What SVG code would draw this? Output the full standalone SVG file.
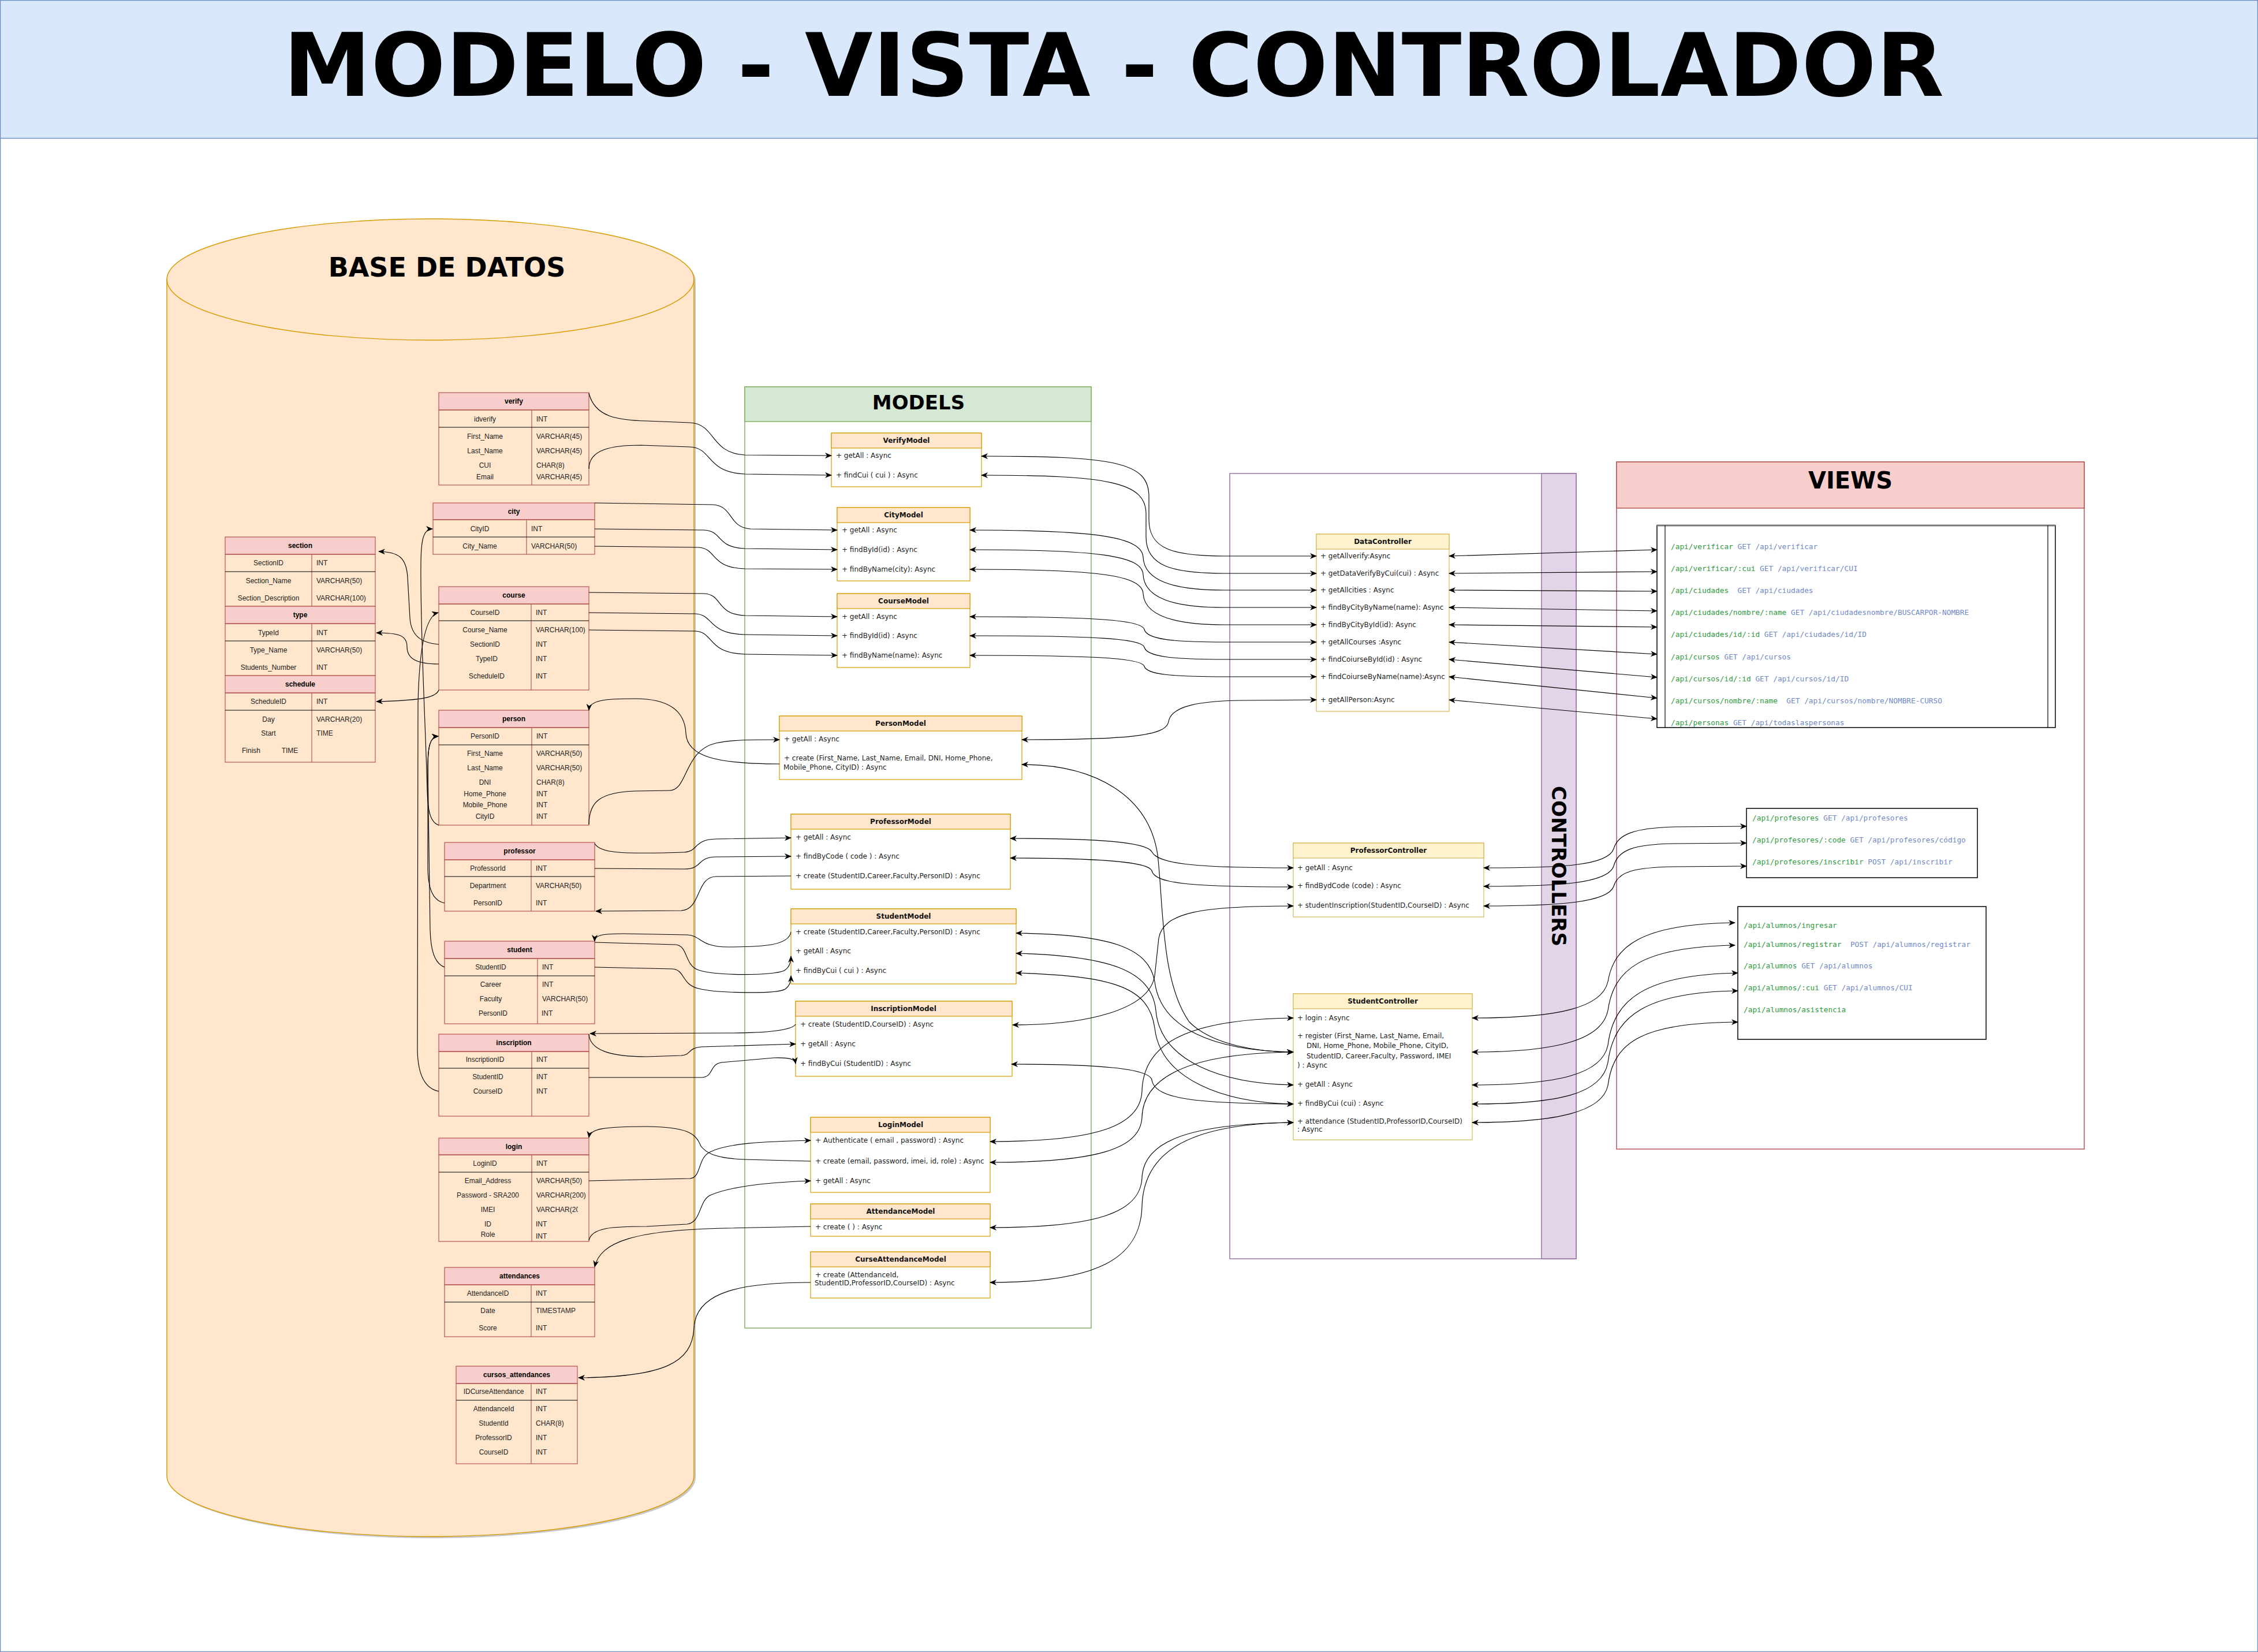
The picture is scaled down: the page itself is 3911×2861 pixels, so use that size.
<svg xmlns="http://www.w3.org/2000/svg" width="3911" height="2861" viewBox="0 0 3911 2861">
<style>
.th{fill:#f8cecc;stroke:#b85450;stroke-width:1.2}
.tb{fill:none;stroke:#b85450;stroke-width:1.2}
.cl{stroke:#b85450;stroke-width:1.2}
.kl{stroke:#000;stroke-width:1.2}
.dh{font:bold 12px "Liberation Sans",Arial,sans-serif;text-anchor:middle;fill:#000}
.c1{font:12px "Liberation Sans",Arial,sans-serif;text-anchor:middle;fill:#222}
.c2{font:12px "Liberation Sans",Arial,sans-serif;fill:#222}
.mh{fill:#ffe6cc;stroke:#d79b00;stroke-width:1.2}
.mb{fill:#fff;stroke:#d79b00;stroke-width:1.2}
.ch{fill:#fff2cc;stroke:#d6b656;stroke-width:1.2}
.cb{fill:#fff;stroke:#d6b656;stroke-width:1.2}
.mt{font:12px "DejaVu Sans",Verdana,sans-serif;fill:#222}
.mht{font:bold 12px "DejaVu Sans",Verdana,sans-serif;text-anchor:middle;fill:#111}
.big{font-family:"DejaVu Sans",Verdana,sans-serif;font-weight:bold;text-anchor:middle;fill:#000}
.vt{font:12.8px "DejaVu Sans Mono","Liberation Mono",monospace}
.g{fill:#2e9a40}
.b{fill:#7088c8}
.e{fill:none;stroke:#000;stroke-width:1.15;marker-end:url(#a)}
.e2{fill:none;stroke:#000;stroke-width:1.15;marker-start:url(#a);marker-end:url(#a)}
</style>
<defs>
<marker id="a" viewBox="0 0 12 10" refX="11" refY="5" markerWidth="12" markerHeight="10" markerUnits="userSpaceOnUse" orient="auto-start-reverse"><path d="M0,0 L12,5 L0,10 L3.5,5 Z" fill="#000"/></marker>
<clipPath id="clipImei"><rect x="921" y="2088" width="80" height="20"/></clipPath>
</defs>

<g id="page">
<rect x="0.5" y="0.5" width="3910" height="2860" fill="#fff" stroke="#6c8ebf" stroke-width="1.5"/>
<rect x="0.5" y="0.5" width="3910" height="239" fill="#dae8fc" stroke="#6c8ebf" stroke-width="1.5"/>
<text class="big" x="1929" y="166" font-size="152" textLength="2876" lengthAdjust="spacing">MODELO - VISTA - CONTROLADOR</text>
</g>

<g id="database">
<path d="M292,487 A456.5,105 0 0 1 1205,487 L1205,2559 A456.5,105 0 0 1 292,2559 Z" fill="#000" opacity="0.22"/>
<path d="M289,484 A456.5,105 0 0 1 1202,484 L1202,2556 A456.5,105 0 0 1 289,2556 Z" fill="#ffe6cc" stroke="#d79b00" stroke-width="1.5"/>
<path d="M289,484 A456.5,105 0 0 0 1202,484" fill="none" stroke="#d79b00" stroke-width="1.5"/>
<text class="big" x="774" y="479" font-size="46">BASE DE DATOS</text>
</g>

<g id="tbl-verify">
<rect class="th" x="760" y="680" width="260" height="30"/>
<rect class="tb" x="760" y="710" width="260" height="130"/>
<line class="cl" x1="921" y1="710" x2="921" y2="840"/>
<line class="kl" x1="760" y1="740" x2="1020" y2="740"/>
<text class="dh" x="890" y="699">verify</text>
<text class="c1" x="840" y="730">idverify</text><text class="c2" x="929" y="730">INT</text>
<text class="c1" x="840" y="760">First_Name</text><text class="c2" x="929" y="760">VARCHAR(45)</text>
<text class="c1" x="840" y="785">Last_Name</text><text class="c2" x="929" y="785">VARCHAR(45)</text>
<text class="c1" x="840" y="810">CUI</text><text class="c2" x="929" y="810">CHAR(8)</text>
<text class="c1" x="840" y="830">Email</text><text class="c2" x="929" y="830">VARCHAR(45)</text>
</g>

<g id="tbl-city">
<rect class="th" x="750" y="871" width="280" height="29"/>
<rect class="tb" x="750" y="900" width="280" height="60"/>
<line class="cl" x1="912" y1="900" x2="912" y2="960"/>
<line class="kl" x1="750" y1="930" x2="1030" y2="930"/>
<text class="dh" x="890" y="890">city</text>
<text class="c1" x="831" y="920">CityID</text><text class="c2" x="920" y="920">INT</text>
<text class="c1" x="831" y="950">City_Name</text><text class="c2" x="920" y="950">VARCHAR(50)</text>
</g>

<g id="tbl-section">
<rect class="th" x="390" y="930" width="260" height="30"/>
<rect class="tb" x="390" y="960" width="260" height="90"/>
<line class="cl" x1="540" y1="960" x2="540" y2="1050"/>
<line class="kl" x1="390" y1="990" x2="650" y2="990"/>
<text class="dh" x="520" y="949">section</text>
<text class="c1" x="465" y="979">SectionID</text><text class="c2" x="548" y="979">INT</text>
<text class="c1" x="465" y="1010">Section_Name</text><text class="c2" x="548" y="1010">VARCHAR(50)</text>
<text class="c1" x="465" y="1040">Section_Description</text><text class="c2" x="548" y="1040">VARCHAR(100)</text>
</g>

<g id="tbl-type">
<rect class="th" x="390" y="1050" width="260" height="30"/>
<rect class="tb" x="390" y="1080" width="260" height="90"/>
<line class="cl" x1="540" y1="1080" x2="540" y2="1170"/>
<line class="kl" x1="390" y1="1110" x2="650" y2="1110"/>
<text class="dh" x="520" y="1069">type</text>
<text class="c1" x="465" y="1100">TypeId</text><text class="c2" x="548" y="1100">INT</text>
<text class="c1" x="465" y="1130">Type_Name</text><text class="c2" x="548" y="1130">VARCHAR(50)</text>
<text class="c1" x="465" y="1160">Students_Number</text><text class="c2" x="548" y="1160">INT</text>
</g>

<g id="tbl-schedule">
<rect class="th" x="390" y="1170" width="260" height="30"/>
<rect class="tb" x="390" y="1200" width="260" height="120"/>
<line class="cl" x1="540" y1="1200" x2="540" y2="1320"/>
<line class="kl" x1="390" y1="1230" x2="650" y2="1230"/>
<text class="dh" x="520" y="1189">schedule</text>
<text class="c1" x="465" y="1219">ScheduleID</text><text class="c2" x="548" y="1219">INT</text>
<text class="c1" x="465" y="1250">Day</text><text class="c2" x="548" y="1250">VARCHAR(20)</text>
<text class="c1" x="465" y="1274">Start</text><text class="c2" x="548" y="1274">TIME</text>
<text class="c1" x="435" y="1304">Finish</text><text class="c1" x="502" y="1304">TIME</text>
</g>

<g id="tbl-course">
<rect class="th" x="760" y="1016" width="260" height="30"/>
<rect class="tb" x="760" y="1046" width="260" height="149"/>
<line class="cl" x1="920" y1="1046" x2="920" y2="1195"/>
<line class="kl" x1="760" y1="1075" x2="1020" y2="1075"/>
<text class="dh" x="890" y="1035">course</text>
<text class="c1" x="840" y="1065">CourseID</text><text class="c2" x="928" y="1065">INT</text>
<text class="c1" x="840" y="1095">Course_Name</text><text class="c2" x="928" y="1095">VARCHAR(100)</text>
<text class="c1" x="840" y="1120">SectionID</text><text class="c2" x="928" y="1120">INT</text>
<text class="c1" x="843" y="1145">TypeID</text><text class="c2" x="928" y="1145">INT</text>
<text class="c1" x="843" y="1175">ScheduleID</text><text class="c2" x="928" y="1175">INT</text>
</g>

<g id="tbl-person">
<rect class="th" x="760" y="1230" width="260" height="30"/>
<rect class="tb" x="760" y="1260" width="260" height="169"/>
<line class="cl" x1="921" y1="1260" x2="921" y2="1429"/>
<line class="kl" x1="760" y1="1290" x2="1020" y2="1290"/>
<text class="dh" x="890" y="1249">person</text>
<text class="c1" x="840" y="1279">PersonID</text><text class="c2" x="929" y="1279">INT</text>
<text class="c1" x="840" y="1309">First_Name</text><text class="c2" x="929" y="1309">VARCHAR(50)</text>
<text class="c1" x="840" y="1334">Last_Name</text><text class="c2" x="929" y="1334">VARCHAR(50)</text>
<text class="c1" x="840" y="1359">DNI</text><text class="c2" x="929" y="1359">CHAR(8)</text>
<text class="c1" x="840" y="1379">Home_Phone</text><text class="c2" x="929" y="1379">INT</text>
<text class="c1" x="840" y="1398">Mobile_Phone</text><text class="c2" x="929" y="1398">INT</text>
<text class="c1" x="840" y="1418">CityID</text><text class="c2" x="929" y="1418">INT</text>
</g>

<g id="tbl-professor">
<rect class="th" x="770" y="1459" width="260" height="30"/>
<rect class="tb" x="770" y="1489" width="260" height="89"/>
<line class="cl" x1="920" y1="1489" x2="920" y2="1578"/>
<line class="kl" x1="770" y1="1518" x2="1030" y2="1518"/>
<text class="dh" x="900" y="1478">professor</text>
<text class="c1" x="845" y="1508">ProfessorId</text><text class="c2" x="928" y="1508">INT</text>
<text class="c1" x="845" y="1538">Department</text><text class="c2" x="928" y="1538">VARCHAR(50)</text>
<text class="c1" x="845" y="1568">PersonID</text><text class="c2" x="928" y="1568">INT</text>
</g>

<g id="tbl-student">
<rect class="th" x="770" y="1630" width="260" height="30"/>
<rect class="tb" x="770" y="1660" width="260" height="113"/>
<line class="cl" x1="931" y1="1660" x2="931" y2="1773"/>
<line class="kl" x1="770" y1="1690" x2="1030" y2="1690"/>
<text class="dh" x="900" y="1649">student</text>
<text class="c1" x="850" y="1679">StudentID</text><text class="c2" x="939" y="1679">INT</text>
<text class="c1" x="850" y="1709">Career</text><text class="c2" x="939" y="1709">INT</text>
<text class="c1" x="850" y="1734">Faculty</text><text class="c2" x="939" y="1734">VARCHAR(50)</text>
<text class="c1" x="854" y="1759">PersonID</text><text class="c2" x="938" y="1759">INT</text>
</g>

<g id="tbl-inscription">
<rect class="th" x="760" y="1791" width="260" height="30"/>
<rect class="tb" x="760" y="1821" width="260" height="112"/>
<line class="cl" x1="921" y1="1821" x2="921" y2="1933"/>
<line class="kl" x1="760" y1="1850" x2="1020" y2="1850"/>
<text class="dh" x="890" y="1810">inscription</text>
<text class="c1" x="840" y="1839">InscriptionID</text><text class="c2" x="929" y="1839">INT</text>
<text class="c1" x="845" y="1869">StudentID</text><text class="c2" x="929" y="1869">INT</text>
<text class="c1" x="845" y="1894">CourseID</text><text class="c2" x="929" y="1894">INT</text>
</g>

<g id="tbl-login">
<rect class="th" x="760" y="1971" width="260" height="29"/>
<rect class="tb" x="760" y="2000" width="260" height="150"/>
<line class="cl" x1="921" y1="2000" x2="921" y2="2150"/>
<line class="kl" x1="760" y1="2030" x2="1020" y2="2030"/>
<text class="dh" x="890" y="1990">login</text>
<text class="c1" x="840" y="2019">LoginID</text><text class="c2" x="929" y="2019">INT</text>
<text class="c1" x="845" y="2049">Email_Address</text><text class="c2" x="929" y="2049">VARCHAR(50)</text>
<text class="c1" x="845" y="2074">Password - SRA200</text><text class="c2" x="929" y="2074">VARCHAR(200)</text>
<text class="c1" x="845" y="2099">IMEI</text><text class="c2" x="929" y="2099" clip-path="url(#clipImei)">VARCHAR(20)</text>
<text class="c1" x="845" y="2124">ID</text><text class="c2" x="928" y="2124">INT</text>
<text class="c1" x="845" y="2142">Role</text><text class="c2" x="928" y="2145">INT</text>
</g>

<g id="tbl-attendances">
<rect class="th" x="770" y="2195" width="260" height="30"/>
<rect class="tb" x="770" y="2225" width="260" height="90"/>
<line class="cl" x1="920" y1="2225" x2="920" y2="2315"/>
<line class="kl" x1="770" y1="2255" x2="1030" y2="2255"/>
<text class="dh" x="900" y="2214">attendances</text>
<text class="c1" x="845" y="2244">AttendanceID</text><text class="c2" x="928" y="2244">INT</text>
<text class="c1" x="845" y="2274">Date</text><text class="c2" x="928" y="2274">TIMESTAMP</text>
<text class="c1" x="845" y="2304">Score</text><text class="c2" x="928" y="2304">INT</text>
</g>

<g id="tbl-cursos_attendances">
<rect class="th" x="790" y="2366" width="210" height="30"/>
<rect class="tb" x="790" y="2396" width="210" height="139"/>
<line class="cl" x1="920" y1="2396" x2="920" y2="2535"/>
<line class="kl" x1="790" y1="2425" x2="1000" y2="2425"/>
<text class="dh" x="895" y="2385">cursos_attendances</text>
<text class="c1" x="855" y="2414">IDCurseAttendance</text><text class="c2" x="928" y="2414">INT</text>
<text class="c1" x="855" y="2444">AttendanceId</text><text class="c2" x="928" y="2444">INT</text>
<text class="c1" x="855" y="2469">StudentId</text><text class="c2" x="928" y="2469">CHAR(8)</text>
<text class="c1" x="855" y="2494">ProfessorID</text><text class="c2" x="928" y="2494">INT</text>
<text class="c1" x="855" y="2519">CourseID</text><text class="c2" x="928" y="2519">INT</text>
</g>

<g id="models">
<rect x="1290" y="670" width="600" height="1630" fill="#fff" stroke="#82b366" stroke-width="1.5"/>
<rect x="1290" y="670" width="600" height="60" fill="#d5e8d4" stroke="#82b366" stroke-width="1.5"/>
<text class="big" x="1591" y="709" font-size="34">MODELS</text>
</g>

<g id="VerifyModel">
<rect class="mb" x="1440" y="750" width="260" height="93"/>
<rect class="mh" x="1440" y="750" width="260" height="26"/>
<text class="mht" x="1570" y="767">VerifyModel</text>
<text class="mt" x="1448" y="793">+ getAll : Async</text>
<text class="mt" x="1448" y="827">+ findCui ( cui ) : Async</text>
</g>
<g id="CityModel">
<rect class="mb" x="1450" y="879" width="230" height="127"/>
<rect class="mh" x="1450" y="879" width="230" height="26"/>
<text class="mht" x="1565" y="896">CityModel</text>
<text class="mt" x="1458" y="922">+ getAll : Async</text>
<text class="mt" x="1458" y="956">+ findById(id) : Async</text>
<text class="mt" x="1458" y="990">+ findByName(city): Async</text>
</g>
<g id="CourseModel">
<rect class="mb" x="1450" y="1028" width="230" height="128"/>
<rect class="mh" x="1450" y="1028" width="230" height="26"/>
<text class="mht" x="1565" y="1045">CourseModel</text>
<text class="mt" x="1458" y="1072">+ getAll : Async</text>
<text class="mt" x="1458" y="1105">+ findById(id) : Async</text>
<text class="mt" x="1458" y="1139">+ findByName(name): Async</text>
</g>
<g id="PersonModel">
<rect class="mb" x="1350" y="1240" width="420" height="110"/>
<rect class="mh" x="1350" y="1240" width="420" height="26"/>
<text class="mht" x="1560" y="1257">PersonModel</text>
<text class="mt" x="1358" y="1284">+ getAll : Async</text>
<text class="mt" x="1358" y="1317">+ create (First_Name, Last_Name, Email, DNI, Home_Phone,</text>
<text class="mt" x="1357" y="1333">Mobile_Phone, CityID) : Async</text>
</g>
<g id="ProfessorModel">
<rect class="mb" x="1370" y="1410" width="380" height="130"/>
<rect class="mh" x="1370" y="1410" width="380" height="26"/>
<text class="mht" x="1560" y="1427">ProfessorModel</text>
<text class="mt" x="1378" y="1454">+ getAll : Async</text>
<text class="mt" x="1378" y="1487">+ findByCode ( code ) : Async</text>
<text class="mt" x="1378" y="1521">+ create (StudentID,Career,Faculty,PersonID) : Async</text>
</g>
<g id="StudentModel">
<rect class="mb" x="1370" y="1574" width="390" height="130"/>
<rect class="mh" x="1370" y="1574" width="390" height="26"/>
<text class="mht" x="1565" y="1591">StudentModel</text>
<text class="mt" x="1378" y="1618">+ create (StudentID,Career,Faculty,PersonID) : Async</text>
<text class="mt" x="1378" y="1651">+ getAll : Async</text>
<text class="mt" x="1378" y="1685">+ findByCui ( cui ) : Async</text>
</g>
<g id="InscriptionModel">
<rect class="mb" x="1378" y="1734" width="375" height="130"/>
<rect class="mh" x="1378" y="1734" width="375" height="26"/>
<text class="mht" x="1565" y="1751">InscriptionModel</text>
<text class="mt" x="1386" y="1778">+ create (StudentID,CourseID) : Async</text>
<text class="mt" x="1386" y="1812">+ getAll : Async</text>
<text class="mt" x="1386" y="1846">+ findByCui (StudentID) : Async</text>
</g>
<g id="LoginModel">
<rect class="mb" x="1404" y="1935" width="311" height="130"/>
<rect class="mh" x="1404" y="1935" width="311" height="26"/>
<text class="mht" x="1560" y="1952">LoginModel</text>
<text class="mt" x="1412" y="1979">+ Authenticate ( email , password) : Async</text>
<text class="mt" x="1412" y="2015">+ create (email, password, imei, id, role) : Async</text>
<text class="mt" x="1412" y="2049">+ getAll : Async</text>
</g>
<g id="AttendanceModel">
<rect class="mb" x="1404" y="2085" width="311" height="56"/>
<rect class="mh" x="1404" y="2085" width="311" height="26"/>
<text class="mht" x="1560" y="2102">AttendanceModel</text>
<text class="mt" x="1412" y="2129">+ create ( ) : Async</text>
</g>
<g id="CurseAttendanceModel">
<rect class="mb" x="1404" y="2168" width="311" height="80"/>
<rect class="mh" x="1404" y="2168" width="311" height="26"/>
<text class="mht" x="1560" y="2185">CurseAttendanceModel</text>
<text class="mt" x="1412" y="2212">+ create (AttendanceId,</text>
<text class="mt" x="1411" y="2226">StudentID,ProfessorID,CourseID) : Async</text>
</g>

<g id="controllers">
<rect x="2130" y="820" width="600" height="1360" fill="#fff" stroke="#9673a6" stroke-width="1.5"/>
<rect x="2670" y="820" width="60" height="1360" fill="#e1d5e7" stroke="#9673a6" stroke-width="1.5"/>
<text class="big" font-size="34" transform="translate(2688,1500) rotate(90)">CONTROLLERS</text>
</g>

<g id="DataController">
<rect class="cb" x="2280" y="925" width="230" height="307"/>
<rect class="ch" x="2280" y="925" width="230" height="26"/>
<text class="mht" x="2395" y="942">DataController</text>
<text class="mt" x="2287" y="967">+ getAllverify:Async</text>
<text class="mt" x="2287" y="997">+ getDataVerifyByCui(cui) : Async</text>
<text class="mt" x="2287" y="1026">+ getAllcities : Async</text>
<text class="mt" x="2287" y="1056">+ findByCityByName(name): Async</text>
<text class="mt" x="2287" y="1086">+ findByCityById(id): Async</text>
<text class="mt" x="2287" y="1116">+ getAllCourses :Async</text>
<text class="mt" x="2287" y="1146">+ findCoiurseById(id) : Async</text>
<text class="mt" x="2287" y="1176">+ findCoiurseByName(name):Async</text>
<text class="mt" x="2287" y="1216">+ getAllPerson:Async</text>
</g>
<g id="ProfessorController">
<rect class="cb" x="2240" y="1460" width="330" height="128"/>
<rect class="ch" x="2240" y="1460" width="330" height="26"/>
<text class="mht" x="2405" y="1477">ProfessorController</text>
<text class="mt" x="2247" y="1507">+ getAll : Async</text>
<text class="mt" x="2247" y="1538">+ findBydCode (code) : Async</text>
<text class="mt" x="2247" y="1572">+ studentInscription(StudentID,CourseID) : Async</text>
</g>
<g id="StudentController">
<rect class="cb" x="2240" y="1721" width="310" height="253"/>
<rect class="ch" x="2240" y="1721" width="310" height="26"/>
<text class="mht" x="2395" y="1738">StudentController</text>
<text class="mt" x="2247" y="1767">+ login : Async</text>
<text class="mt" x="2247" y="1798">+ register (First_Name, Last_Name, Email,</text>
<text class="mt" x="2263" y="1815">DNI, Home_Phone, Mobile_Phone, CityID,</text>
<text class="mt" x="2263" y="1833">StudentID, Career,Faculty, Password, IMEI</text>
<text class="mt" x="2247" y="1849">) : Async</text>
<text class="mt" x="2247" y="1882">+ getAll : Async</text>
<text class="mt" x="2247" y="1915">+ findByCui (cui) : Async</text>
<text class="mt" x="2247" y="1946">+ attendance (StudentID,ProfessorID,CourseID)</text>
<text class="mt" x="2247" y="1960">: Async</text>
</g>

<g id="views">
<rect x="2800" y="800" width="810" height="1190" fill="#fff" stroke="#b85450" stroke-width="1.5"/>
<rect x="2800" y="800" width="810" height="80" fill="#f8cecc" stroke="#b85450" stroke-width="1.5"/>
<text class="big" x="3205" y="846" font-size="40">VIEWS</text>
</g>
<g id="views-data">
<rect x="2870" y="910" width="690" height="350" fill="#fff" stroke="#000" stroke-width="1.5"/>
<line x1="2870" y1="910" x2="3560" y2="910" stroke="#777" stroke-width="3"/>
<line x1="2884" y1="910" x2="2884" y2="1260" stroke="#000" stroke-width="1.2"/>
<line x1="3547" y1="910" x2="3547" y2="1260" stroke="#000" stroke-width="1.2"/>
<text class="vt" xml:space="preserve" x="2894" y="951"><tspan class="g">/api/verificar</tspan><tspan class="b"> GET /api/verificar</tspan></text>
<text class="vt" xml:space="preserve" x="2894" y="989"><tspan class="g">/api/verificar/:cui</tspan><tspan class="b"> GET /api/verificar/CUI</tspan></text>
<text class="vt" xml:space="preserve" x="2894" y="1027"><tspan class="g">/api/ciudades</tspan><tspan class="b">  GET /api/ciudades</tspan></text>
<text class="vt" xml:space="preserve" x="2894" y="1065"><tspan class="g">/api/ciudades/nombre/:name</tspan><tspan class="b"> GET /api/ciudadesnombre/BUSCARPOR-NOMBRE</tspan></text>
<text class="vt" xml:space="preserve" x="2894" y="1103"><tspan class="g">/api/ciudades/id/:id</tspan><tspan class="b"> GET /api/ciudades/id/ID</tspan></text>
<text class="vt" xml:space="preserve" x="2894" y="1142"><tspan class="g">/api/cursos</tspan><tspan class="b"> GET /api/cursos</tspan></text>
<text class="vt" xml:space="preserve" x="2894" y="1180"><tspan class="g">/api/cursos/id/:id</tspan><tspan class="b"> GET /api/cursos/id/ID</tspan></text>
<text class="vt" xml:space="preserve" x="2894" y="1218"><tspan class="g">/api/cursos/nombre/:name</tspan><tspan class="b">  GET /api/cursos/nombre/NOMBRE-CURSO</tspan></text>
<text class="vt" xml:space="preserve" x="2894" y="1256"><tspan class="g">/api/personas</tspan><tspan class="b"> GET /api/todaslaspersonas</tspan></text>
</g>
<g id="views-profesores">
<rect x="3025" y="1400" width="400" height="120" fill="#fff" stroke="#000" stroke-width="1.5"/>
<text class="vt" xml:space="preserve" x="3035" y="1421"><tspan class="g">/api/profesores</tspan><tspan class="b"> GET /api/profesores</tspan></text>
<text class="vt" xml:space="preserve" x="3035" y="1459"><tspan class="g">/api/profesores/:code</tspan><tspan class="b"> GET /api/profesores/código</tspan></text>
<text class="vt" xml:space="preserve" x="3035" y="1497"><tspan class="g">/api/profesores/inscribir</tspan><tspan class="b"> POST /api/inscribir</tspan></text>
</g>
<g id="views-alumnos">
<rect x="3010" y="1570" width="430" height="230" fill="#fff" stroke="#000" stroke-width="1.5"/>
<text class="vt" xml:space="preserve" x="3020" y="1607"><tspan class="g">/api/alumnos/ingresar</tspan></text>
<text class="vt" xml:space="preserve" x="3020" y="1640"><tspan class="g">/api/alumnos/registrar</tspan><tspan class="b">  POST /api/alumnos/registrar</tspan></text>
<text class="vt" xml:space="preserve" x="3020" y="1677"><tspan class="g">/api/alumnos</tspan><tspan class="b"> GET /api/alumnos</tspan></text>
<text class="vt" xml:space="preserve" x="3020" y="1715"><tspan class="g">/api/alumnos/:cui</tspan><tspan class="b"> GET /api/alumnos/CUI</tspan></text>
<text class="vt" xml:space="preserve" x="3020" y="1753"><tspan class="g">/api/alumnos/asistencia</tspan></text>
</g>

<g id="connectors">
<path class="e" d="M760,1116 C735,1114 712,1105 710,1070 L706,1000 C704,965 690,956 656,955"/>
<path class="e" d="M760,1150 C720,1150 705,1140 705,1120 C705,1100 690,1096 652,1096"/>
<path class="e" d="M760,1195 C755,1210 720,1213 652,1215"/>
<path class="e" d="M760,1429 C744,1424 741,1400 740,1370 C737,1250 728,1100 729,980 C729,935 733,916 749,916"/>
<path class="e" d="M770,1564 C750,1560 741,1540 741,1500 L741,1330 C741,1295 744,1276 759,1275"/>
<path class="e" d="M770,1675 C752,1668 746,1645 745,1610 L741,1330 C741,1295 744,1276 759,1275"/>
<path class="e" d="M760,1890 C735,1885 724,1860 723,1820 L724,1220 C726,1120 738,1066 759,1061"/>

<path class="e" d="M1020,681 C1030,722 1070,728 1120,729 L1195,732 C1240,734 1230,785 1290,788 L1440,789"/>
<path class="e" d="M1020,812 C1020,778 1060,771 1110,771 L1195,774 C1235,776 1222,818 1290,821 L1440,823"/>
<path class="e" d="M1030,871 L1235,874 C1270,876 1262,914 1300,916 L1450,918"/>
<path class="e" d="M1030,916 L1220,918 C1252,920 1240,948 1290,950 L1450,952"/>
<path class="e" d="M1030,946 L1210,948 C1242,950 1230,983 1290,985 L1450,986"/>
<path class="e" d="M1020,1026 L1220,1028 C1252,1030 1240,1064 1290,1066 L1450,1068"/>
<path class="e" d="M1020,1061 L1205,1063 C1237,1065 1225,1097 1290,1099 L1450,1101"/>
<path class="e" d="M1020,1091 L1205,1093 C1237,1095 1225,1131 1290,1133 L1450,1135"/>
<path class="e" d="M1020,1428 C1020,1388 1040,1372 1100,1370 L1160,1369 C1192,1368 1184,1300 1240,1287 C1270,1281 1300,1281 1350,1281"/>
<path class="e" d="M1350,1323 C1240,1323 1190,1310 1188,1270 C1186,1225 1150,1210 1100,1210 C1050,1210 1021,1212 1020,1230"/>
<path class="e" d="M1030,1461 C1040,1478 1080,1478 1150,1477 L1185,1476 C1210,1475 1200,1454 1240,1453 L1370,1451"/>
<path class="e" d="M1030,1504 L1185,1505 C1218,1505 1205,1485 1240,1484 L1370,1483"/>
<path class="e" d="M1370,1517 L1240,1518 C1205,1519 1215,1575 1180,1577 L1032,1578"/>
<path class="e" d="M1370,1614 C1366,1638 1320,1640 1260,1640 C1212,1640 1215,1620 1190,1619 L1080,1617 C1042,1617 1030,1620 1030,1630"/>
<path class="e" d="M1030,1632 L1170,1636 C1192,1637 1185,1672 1210,1680 C1240,1690 1340,1690 1358,1681 C1367,1676 1370,1668 1370,1656"/>
<path class="e" d="M1030,1675 L1165,1678 C1187,1680 1180,1705 1210,1712 C1240,1720 1345,1722 1360,1713 C1368,1707 1370,1700 1370,1690"/>
<path class="e" d="M1378,1774 C1370,1786 1320,1789 1260,1789 L1022,1790"/>
<path class="e" d="M1020,1791 C1022,1820 1060,1830 1120,1830 L1180,1828 C1198,1827 1190,1815 1215,1813 L1378,1808"/>
<path class="e" d="M1020,1866 L1215,1866 C1237,1865 1228,1843 1250,1840 L1340,1832 C1366,1831 1377,1834 1378,1842"/>
<path class="e" d="M1404,2011 L1290,2008 C1235,2006 1222,1995 1214,1985 C1205,1962 1190,1952 1120,1951 C1045,1951 1022,1955 1020,1970"/>
<path class="e" d="M1020,2045 L1195,2041 C1215,2040 1208,2005 1230,1995 C1260,1980 1320,1977 1404,1975"/>
<path class="e" d="M1020,2148 C1025,2126 1060,2124 1120,2124 L1190,2120 C1215,2117 1210,2080 1230,2070 C1260,2057 1320,2048 1404,2045"/>
<path class="e" d="M1404,2124 L1260,2127 C1100,2130 1040,2150 1030,2194"/>
<path class="e" d="M1404,2221 C1290,2221 1205,2235 1202,2300 C1199,2360 1150,2385 1002,2386"/>

<path class="e2" d="M1700,790 C1930,790 1990,800 1990,860 L1990,900 C1990,950 2030,963 2120,963 L2280,963"/>
<path class="e2" d="M1700,823 C1920,823 1985,835 1985,890 L1985,930 C1985,980 2030,993 2120,993 L2280,993"/>
<path class="e2" d="M1680,918 C1900,918 1978,930 1980,965 C1982,1005 2030,1022 2120,1022 L2280,1022"/>
<path class="e2" d="M1680,952 C1900,952 1978,962 1980,995 C1982,1035 2030,1052 2120,1052 L2280,1052"/>
<path class="e2" d="M1680,986 C1900,986 1978,996 1980,1028 C1982,1065 2030,1082 2120,1082 L2280,1082"/>
<path class="e2" d="M1680,1068 C1900,1068 1978,1074 1982,1090 C1986,1107 2030,1112 2120,1112 L2280,1112"/>
<path class="e2" d="M1680,1101 C1900,1101 1978,1106 1982,1121 C1986,1137 2030,1142 2120,1142 L2280,1142"/>
<path class="e2" d="M1680,1135 C1900,1135 1978,1140 1982,1154 C1986,1168 2030,1172 2120,1172 L2280,1172"/>
<path class="e2" d="M1770,1281 C1950,1281 2020,1275 2024,1250 C2028,1222 2080,1214 2150,1213 L2280,1212"/>
<path class="e2" d="M1750,1452 C1900,1452 1985,1458 1995,1475 C2005,1495 2060,1503 2240,1503"/>
<path class="e2" d="M1750,1486 C1900,1486 1990,1492 1995,1508 C2000,1530 2060,1536 2240,1536"/>
<path class="e2" d="M2240,1569 C2080,1569 2015,1580 2007,1625 L2000,1690 C1990,1750 1880,1775 1754,1775"/>
<path class="e2" d="M1760,1616 C1920,1618 1990,1640 2000,1700 C2010,1780 2100,1820 2240,1822"/>
<path class="e2" d="M1760,1651 C1920,1655 1995,1680 2002,1750 C2010,1840 2120,1877 2240,1879"/>
<path class="e2" d="M1760,1685 C1930,1690 1990,1710 2000,1780 C2010,1870 2120,1910 2240,1912"/>
<path class="e2" d="M1770,1324 C1900,1324 1990,1380 2005,1480 C2015,1560 2010,1700 2060,1770 C2100,1810 2180,1822 2240,1822"/>
<path class="e2" d="M1752,1843 C1900,1843 1990,1850 1995,1870 C2000,1905 2080,1911 2240,1912"/>
<path class="e2" d="M1715,1977 C1900,1977 1975,1950 1978,1890 C1980,1810 2050,1765 2240,1763"/>
<path class="e2" d="M1715,2013 C1900,2013 1975,1990 1978,1935 C1980,1870 2050,1824 2240,1822"/>
<path class="e2" d="M1715,2126 C1900,2126 1975,2100 1978,2040 C1980,1980 2050,1946 2240,1944"/>
<path class="e2" d="M1715,2221 C1900,2221 1975,2180 1978,2090 C1980,2000 2050,1946 2240,1944"/>

<path class="e2" d="M2510,963 L2870,952"/>
<path class="e2" d="M2510,993 L2870,990"/>
<path class="e2" d="M2510,1022 L2870,1024"/>
<path class="e2" d="M2510,1052 L2870,1058"/>
<path class="e2" d="M2510,1082 L2870,1086"/>
<path class="e2" d="M2510,1112 L2870,1133"/>
<path class="e2" d="M2510,1142 L2870,1173"/>
<path class="e2" d="M2510,1172 L2870,1209"/>
<path class="e2" d="M2510,1212 L2870,1245"/>

<path class="e2" d="M2570,1503 C2700,1503 2785,1500 2795,1470 C2802,1445 2830,1434 2900,1432 L3025,1431"/>
<path class="e2" d="M2570,1535 C2700,1535 2785,1530 2795,1500 C2802,1472 2830,1462 2900,1461 L3025,1460"/>
<path class="e2" d="M2570,1569 C2700,1569 2785,1563 2795,1535 C2802,1510 2830,1502 2900,1501 L3025,1500"/>

<path class="e2" d="M2550,1763 C2700,1763 2775,1745 2785,1700 C2795,1640 2840,1600 3005,1598"/>
<path class="e2" d="M2550,1822 C2700,1822 2775,1800 2785,1750 C2795,1680 2840,1640 3005,1637"/>
<path class="e2" d="M2550,1879 C2700,1879 2775,1860 2785,1810 C2795,1730 2850,1688 3010,1685"/>
<path class="e2" d="M2550,1912 C2700,1912 2775,1895 2785,1840 C2795,1760 2850,1718 3010,1716"/>
<path class="e2" d="M2550,1944 C2700,1944 2775,1925 2785,1880 C2795,1800 2850,1772 3010,1770"/>
</g>
</svg>
